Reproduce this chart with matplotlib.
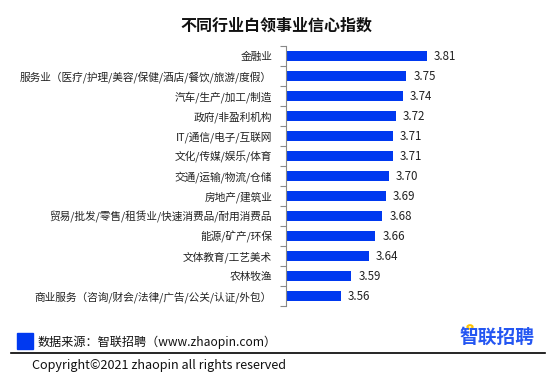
import matplotlib
matplotlib.use("Agg")
import matplotlib.pyplot as plt
from matplotlib.patches import Rectangle, Circle

plt.rcParams['font.family'] = ['Noto Sans CJK SC', 'DejaVu Sans']

TITLE = "不同行业白领事业信心指数"
industries = [
    "金融业",
    "服务业（医疗/护理/美容/保健/酒店/餐饮/旅游/度假）",
    "汽车/生产/加工/制造",
    "政府/非盈利机构",
    "IT/通信/电子/互联网",
    "文化/传媒/娱乐/体育",
    "交通/运输/物流/仓储",
    "房地产/建筑业",
    "贸易/批发/零售/租赁业/快速消费品/耐用消费品",
    "能源/矿产/环保",
    "文体教育/工艺美术",
    "农林牧渔",
    "商业服务（咨询/财会/法律/广告/公关/认证/外包）",
]
scores = [3.81, 3.75, 3.74, 3.72, 3.71, 3.71, 3.70, 3.69, 3.68, 3.66, 3.64, 3.59, 3.56]

W, H = 548, 374
BLUE = "#0039F0"

fig = plt.figure(figsize=(W / 100, H / 100), dpi=100)

# axes placed in pixel terms
x0, x1, ytop, ybot = 286, 530, 46, 306
ax = fig.add_axes([x0 / W, 1 - ybot / H, (x1 - x0) / W, (ybot - ytop) / H])

y = list(range(len(industries)))
ax.barh(y, scores, height=0.54, left=0, color=BLUE)
ax.set_xlim(3.40, 4.109)
ax.set_ylim(len(industries) - 0.5, -0.5)

for yi, v in zip(y, scores):
    ax.text(v + 0.02, yi, f"{v:.2f}", va="center", ha="left", fontsize=8.3, color="#222222")

ax.set_yticks(y)
ax.set_yticklabels(industries, fontsize=7.7, color="#222222")
ax.tick_params(axis="y", which="major", length=0, pad=10)
ax.set_yticks([i - 0.5 for i in range(len(industries) + 1)], minor=True)
ax.tick_params(axis="y", which="minor", length=4, color="#888888", width=0.8)
ax.set_xticks([])
for s in ["top", "right", "bottom"]:
    ax.spines[s].set_visible(False)
ax.spines["left"].set_color("#888888")
ax.spines["left"].set_linewidth(0.8)

fig.text(276 / W, 1 - 26 / H, TITLE, ha="center", va="center", fontsize=11.5, fontweight="bold", color="#111111")

# footer
fig.patches.append(Rectangle((17 / W, 1 - 349 / H), 16 / W, 16 / H, transform=fig.transFigure, color=BLUE))
fig.text(38 / W, 1 - 342 / H, "数据来源：智联招聘（www.zhaopin.com）", ha="left", va="center", fontsize=8.7, color="#111111")
fig.text(459 / W, 1 - 337 / H, "智联招聘", ha="left", va="center", fontsize=13.5, fontweight="bold", color="#2456F2")
fig.patches.append(Circle((470 / W, 1 - 327 / H), 2.6 / W, transform=fig.transFigure, fill=False,
                          edgecolor="#FFC300", linewidth=1.5))
fig.add_artist(plt.Line2D([11 / W, 545 / W], [1 - 352.5 / H, 1 - 352.5 / H], color="black", linewidth=1.2,
                          transform=fig.transFigure))
fig.text(32 / W, 1 - 365.5 / H, "Copyright©2021 zhaopin all rights reserved", ha="left", va="center",
         fontsize=9.1, color="#111111")

fig.savefig("out.png", dpi=100)
